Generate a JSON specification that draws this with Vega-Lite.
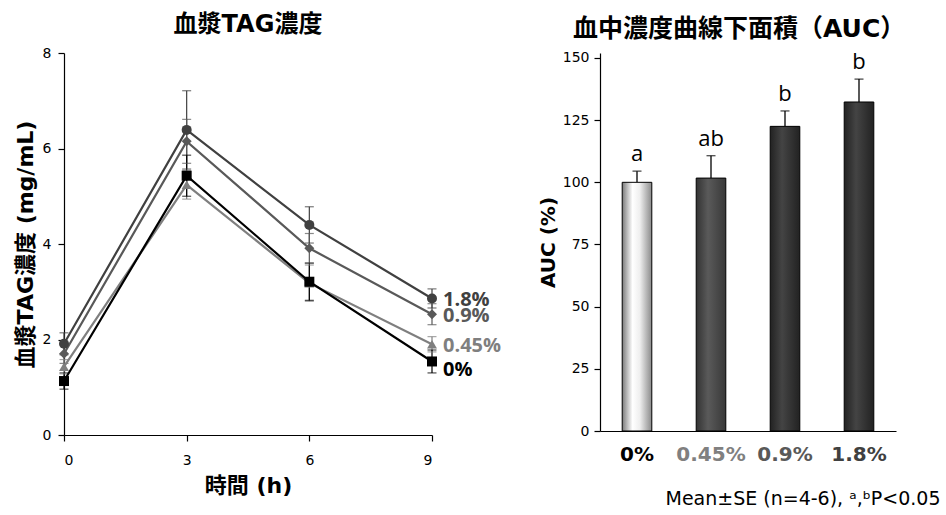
{
  "$schema": "https://vega.github.io/schema/vega-lite/v6.json",
  "background": "white",
  "padding": {"left": 14, "top": 13, "right": 4, "bottom": 4},
  "spacing": 36,
  "config": {
    "view": {"stroke": null},
    "font": "DejaVu Sans",
    "axis": {"grid": false, "domainColor": "black", "tickColor": "black", "labelColor": "black", "labelFont": "DejaVu Sans", "labelFontSize": 14, "titleColor": "black", "tickSize": 6, "domainWidth": 1.2, "tickWidth": 1.2},
    "title": {"font": "DejaVu Sans, Noto Sans CJK JP", "fontSize": 24, "fontWeight": "bold", "color": "black"}
  },
  "datasets": {
    "tag": [
      {"grp": "1.8%", "time": 0, "mean": 1.91, "lo": 1.68, "hi": 2.14},
      {"grp": "1.8%", "time": 3, "mean": 6.39, "lo": 5.57, "hi": 7.21},
      {"grp": "1.8%", "time": 6, "mean": 4.40, "lo": 4.02, "hi": 4.78},
      {"grp": "1.8%", "time": 9, "mean": 2.86, "lo": 2.66, "hi": 3.06},
      {"grp": "0.9%", "time": 0, "mean": 1.70, "lo": 1.50, "hi": 1.90},
      {"grp": "0.9%", "time": 3, "mean": 6.15, "lo": 5.69, "hi": 6.61},
      {"grp": "0.9%", "time": 6, "mean": 3.91, "lo": 3.60, "hi": 4.22},
      {"grp": "0.9%", "time": 9, "mean": 2.53, "lo": 2.31, "hi": 2.75},
      {"grp": "0.45%", "time": 0, "mean": 1.43, "lo": 1.28, "hi": 1.58},
      {"grp": "0.45%", "time": 3, "mean": 5.24, "lo": 4.94, "hi": 5.54},
      {"grp": "0.45%", "time": 6, "mean": 3.18, "lo": 2.80, "hi": 3.56},
      {"grp": "0.45%", "time": 9, "mean": 1.90, "lo": 1.74, "hi": 2.06},
      {"grp": "0%", "time": 0, "mean": 1.13, "lo": 0.96, "hi": 1.30},
      {"grp": "0%", "time": 3, "mean": 5.43, "lo": 5.00, "hi": 5.86},
      {"grp": "0%", "time": 6, "mean": 3.21, "lo": 2.82, "hi": 3.60},
      {"grp": "0%", "time": 9, "mean": 1.54, "lo": 1.30, "hi": 1.78}
    ],
    "auc": [
      {"grp": "0%", "auc": 100, "upper": 104.5, "letter": "a"},
      {"grp": "0.45%", "auc": 101.7, "upper": 110.7, "letter": "ab"},
      {"grp": "0.9%", "auc": 122.5, "upper": 128.7, "letter": "b"},
      {"grp": "1.8%", "auc": 132.3, "upper": 141.5, "letter": "b"}
    ]
  },
  "hconcat": [
    {
      "width": 368,
      "height": 382,
      "title": {"text": "血漿TAG濃度", "offset": 9},
      "data": {"name": "tag"},
      "encoding": {
        "x": {"field": "time", "type": "quantitative", "scale": {"domain": [0, 9], "nice": false, "zero": false},
              "axis": {"values": [0, 3, 6, 9], "title": "時間 (h)", "titleFont": "DejaVu Sans, Noto Sans CJK JP", "titleFontSize": 22, "titleFontWeight": "bold", "titlePadding": 8, "labelPadding": 12}},
        "color": {"field": "grp", "type": "nominal", "scale": {"domain": ["0%", "0.45%", "0.9%", "1.8%"], "range": ["#000000", "#7f7f7f", "#595959", "#404040"]}, "legend": null}
      },
      "layer": [
        {
          "mark": {"type": "rule", "strokeWidth": 1.2},
          "encoding": {"y": {"field": "lo", "type": "quantitative", "scale": {"domain": [0, 8]}}, "y2": {"field": "hi"}}
        },
        {
          "mark": {"type": "tick", "thickness": 1.2, "size": 9, "orient": "horizontal"},
          "encoding": {"y": {"field": "hi", "type": "quantitative", "scale": {"domain": [0, 8]}}}
        },
        {
          "mark": {"type": "tick", "thickness": 1.2, "size": 9, "orient": "horizontal"},
          "encoding": {"y": {"field": "lo", "type": "quantitative", "scale": {"domain": [0, 8]}}}
        },
        {
          "mark": {"type": "line", "strokeWidth": 2.2},
          "encoding": {
            "y": {"field": "mean", "type": "quantitative", "scale": {"domain": [0, 8]},
                  "axis": {"values": [0, 2, 4, 6, 8], "title": "血漿TAG濃度 (mg/mL)", "titleFont": "DejaVu Sans, Noto Sans CJK JP", "titleFontSize": 22, "titleFontWeight": "bold", "titlePadding": 5, "labelPadding": 7}},
            "detail": {"field": "grp"}
          }
        },
        {
          "mark": {"type": "point", "filled": true, "opacity": 1, "size": 100},
          "encoding": {
            "y": {"field": "mean", "type": "quantitative", "scale": {"domain": [0, 8]}},
            "shape": {"field": "grp", "type": "nominal", "scale": {"domain": ["0%", "0.45%", "0.9%", "1.8%"], "range": ["square", "triangle-up", "diamond", "circle"]}, "legend": null}
          }
        },
        {
          "transform": [{"filter": "datum.time == 9 && datum.grp != '0%'"}],
          "mark": {"type": "text", "align": "left", "baseline": "middle", "dx": 11, "dy": 2, "font": "Open Sans", "fontSize": 20, "fontWeight": "bold"},
          "encoding": {"y": {"field": "mean", "type": "quantitative", "scale": {"domain": [0, 8]}}, "text": {"field": "grp"}}
        },
        {
          "transform": [{"filter": "datum.time == 9 && datum.grp == '0%'"}],
          "mark": {"type": "text", "align": "left", "baseline": "middle", "dx": 11, "dy": 9, "font": "Open Sans", "fontSize": 20, "fontWeight": "bold"},
          "encoding": {"y": {"field": "mean", "type": "quantitative", "scale": {"domain": [0, 8]}}, "text": {"field": "grp"}}
        }
      ]
    },
    {
      "width": 296,
      "height": 378,
      "title": {"text": "血中濃度曲線下面積（AUC）", "offset": 9, "frame": "bounds", "fontSize": 25},
      "data": {"name": "auc"},
      "encoding": {
        "x": {"field": "grp", "type": "nominal", "sort": ["0%", "0.45%", "0.9%", "1.8%"],
              "scale": {"paddingInner": 0.6, "paddingOuter": 0.3},
              "axis": {"labelAngle": 0, "ticks": false, "labelPadding": 13, "labelFont": "DejaVu Sans", "labelFontSize": 20, "labelFontWeight": "bold",
                       "labelColor": {"condition": [{"test": "datum.value == '0%'", "value": "#000000"}, {"test": "datum.value == '0.45%'", "value": "#808080"}, {"test": "datum.value == '0.9%'", "value": "#595959"}], "value": "#404040"},
                       "title": "Mean±SE (n=4-6), ᵃ,ᵇP<0.05", "titleFont": "DejaVu Sans", "titleFontSize": 19, "titleFontWeight": "normal", "titleAlign": "right", "titleX": 340, "titleY": 67, "titleBaseline": "middle"}}
      },
      "layer": [
        {
          "mark": {"type": "rule", "strokeWidth": 1.3, "color": "black"},
          "encoding": {"y": {"field": "auc", "type": "quantitative", "scale": {"domain": [0, 152], "nice": false}}, "y2": {"field": "upper"}}
        },
        {
          "mark": {"type": "tick", "thickness": 1.3, "size": 9, "orient": "horizontal", "color": "black"},
          "encoding": {"y": {"field": "upper", "type": "quantitative", "scale": {"domain": [0, 152], "nice": false}}}
        },
        {
          "transform": [{"filter": "datum.grp == '0%'"}],
          "mark": {"type": "bar", "stroke": "black", "strokeWidth": 1,
                   "fill": {"gradient": "linear", "x1": 0, "x2": 1, "y1": 0, "y2": 0, "stops": [{"offset": 0, "color": "#7a7a7a"}, {"offset": 0.35, "color": "#ffffff"}, {"offset": 0.6, "color": "#eeeeee"}, {"offset": 1, "color": "#8a8a8a"}]}},
          "encoding": {"y": {"field": "auc", "type": "quantitative",
                             "scale": {"domain": [0, 152], "nice": false},
                             "axis": {"values": [0, 25, 50, 75, 100, 125, 150], "title": "AUC (%)", "titleFont": "DejaVu Sans", "titleFontSize": 20, "titleFontWeight": "bold", "titlePadding": 4, "labelPadding": 5}}}
        },
        {
          "transform": [{"filter": "datum.grp == '0.45%'"}],
          "mark": {"type": "bar", "stroke": "black", "strokeWidth": 1,
                   "fill": {"gradient": "linear", "x1": 0, "x2": 1, "y1": 0, "y2": 0, "stops": [{"offset": 0, "color": "#333333"}, {"offset": 0.4, "color": "#5a5a5a"}, {"offset": 1, "color": "#383838"}]}},
          "encoding": {"y": {"field": "auc", "type": "quantitative", "scale": {"domain": [0, 152], "nice": false}}}
        },
        {
          "transform": [{"filter": "datum.grp == '0.9%' || datum.grp == '1.8%'"}],
          "mark": {"type": "bar", "stroke": "black", "strokeWidth": 1,
                   "fill": {"gradient": "linear", "x1": 0, "x2": 1, "y1": 0, "y2": 0, "stops": [{"offset": 0, "color": "#222222"}, {"offset": 0.4, "color": "#444444"}, {"offset": 1, "color": "#222222"}]}},
          "encoding": {"y": {"field": "auc", "type": "quantitative", "scale": {"domain": [0, 152], "nice": false}}}
        },
        {
          "mark": {"type": "text", "baseline": "bottom", "dy": -5, "font": "Open Sans", "fontSize": 22, "color": "black"},
          "encoding": {"y": {"field": "upper", "type": "quantitative", "scale": {"domain": [0, 152], "nice": false}}, "text": {"field": "letter"}}
        }
      ]
    }
  ]
}
